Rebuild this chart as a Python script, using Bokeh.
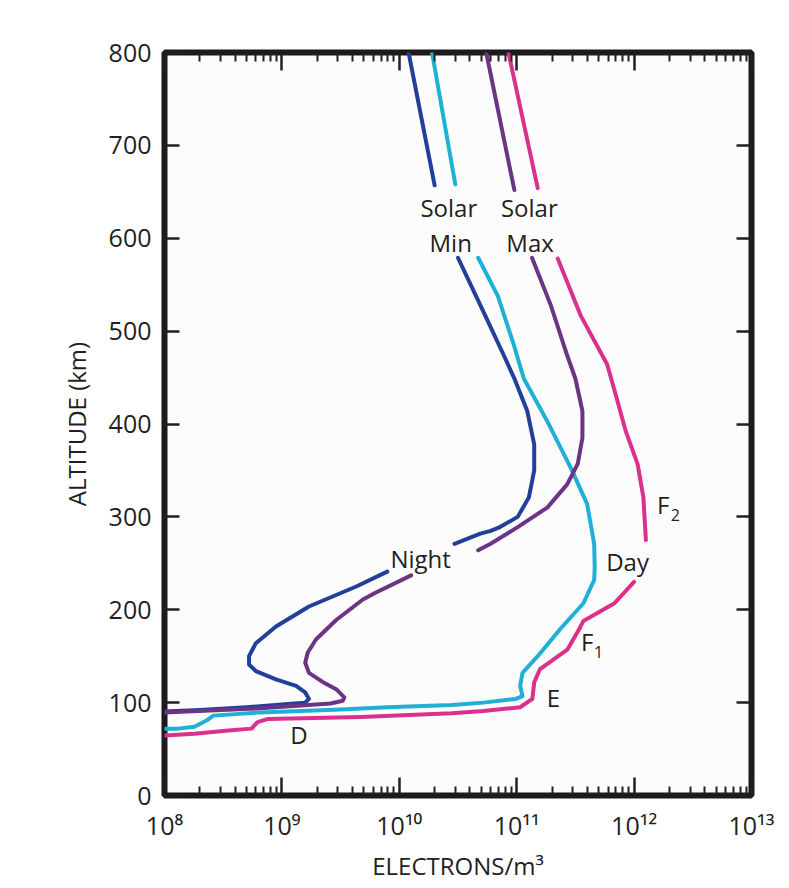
from bokeh.plotting import figure
from bokeh.models import FixedTicker, LinearAxis, LogAxis, ColumnDataSource
from bokeh.core.properties import value
from bokeh.embed import file_html
from bokeh.resources import INLINE

nan = float("nan")

# ---- data (electron density per m^3 vs altitude km); nan = gap in the curve for a label
night_min_ne = [1.20e10, 2.00e10, nan,
                3.16e10, 4.9e10, 7.76e10, 9.55e10, 1.23e11, 1.41e11, 1.41e11, 1.27e11, 1.02e11, 7.2e10, 6.0e10, 4.9e10, 2.95e10, nan,
                7.9e9, 4.3e9, 1.7e9, 8.9e8, 6.0e8, 5.25e8, 5.25e8, 6.0e8, 8.9e8, 1.32e9, 1.58e9, 1.7e9, 1.58e9, 1.12e9, 5.0e8, 2.0e8, 1.0e8]
night_min_alt = [800, 657, nan,
                 579, 528, 474, 449, 414, 378, 350, 321, 300, 289, 285, 282, 271, nan,
                 241, 225, 203.5, 182, 164, 150, 141, 134, 125, 118, 111, 104, 100, 98.5, 95, 92, 90.5]

night_max_ne = [5.5e10, 9.55e10, nan,
                1.35e11, 1.95e11, 2.69e11, 3.16e11, 3.63e11, 3.63e11, 3.31e11, 2.69e11, 1.82e11, 1.02e11, 6.0e10, 4.7e10, nan,
                1.26e10, 6.2e9, 4.9e9, 2.9e9, 1.95e9, 1.66e9, 1.58e9, 1.7e9, 2.24e9, 2.9e9, 3.4e9, 3.3e9, 2.6e9, 6.6e8, 1.0e8]
night_max_alt = [800, 652, nan,
                 579, 528, 474, 449, 414, 385, 357, 335, 310, 289, 271, 264, nan,
                 237, 218, 211, 189, 168, 154, 143, 132, 122, 114.5, 105.6, 102, 99, 94, 89.5]

day_min_ne = [1.9e10, 3.0e10, nan,
              4.7e10, 6.9e10, 9.3e10, 1.15e11, 1.82e11, 2.88e11, 3.98e11, 4.57e11, 4.62e11, 4.57e11, 3.7e11,
              2.34e11, 1.51e11, 1.12e11, 1.07e11, 1.12e11, 9.8e10, 5.2e10, 2.8e10, 7.9e9, 3.16e9, 6.6e8, 2.6e8,
              2.3e8, 1.8e8, 1.3e8, 1.0e8]
day_min_alt = [800, 658, nan,
               579, 538, 488, 449, 403, 353, 314, 271, 245, 232, 207,
               179, 150, 132, 118, 107, 104, 100, 97.5, 95, 92.5, 89.5, 86,
               81, 74, 72, 72]

day_max_ne = [8.5e10, 1.51e11, nan,
              2.24e11, 3.5e11, 5.9e11, 7.1e11, 8.5e11, 1.07e12, 1.2e12, 1.26e12, nan,
              1.0e12, 6.8e11, 3.7e11, 3.4e11, 2.7e11, 1.58e11, 1.41e11, 1.36e11, 1.07e11, 5.2e10, 2.8e10, 4.7e9,
              7.6e8, 6.2e8, 5.5e8, 3.5e8, 1.8e8, 1.0e8]
day_max_alt = [800, 654, nan,
               578, 517, 464, 428, 392, 357, 321, 275, nan,
               230, 207, 188, 179, 157, 136, 122, 104, 95, 91, 88.5, 84.5,
               82.5, 79, 72, 70, 66.5, 64.5]

y_ticks = [0, 100, 200, 300, 400, 500, 600, 700, 800]
y_tick_labels = ["0", "100", "200", "300", "400", "500", "600", "700", "800"]
x_decades = [1e8, 1e9, 1e10, 1e11, 1e12, 1e13]
x_tick_labels = ["10⁸", "10⁹", "10¹⁰", "10¹¹", "10¹²", "10¹³"]

curve_labels = ["Solar", "Min", "Solar", "Max", "Night", "Day", "F", "F", "E", "D"]
curve_label_x = [2.64e10, 2.74e10, 1.28e11, 1.30e11, 1.52e10, 8.8e11, 1.77e12, 3.98e11, 2.05e11, 1.40e9]
curve_label_y = [633, 595.5, 633, 595.5, 255, 251.6, 313.6, 166, 105.5, 65.7]
sub_labels = ["2", "1"]
sub_label_x = [2.25e12, 4.99e11]
sub_label_y = [302.4, 154.4]

# ---- styling
FONT = "Open Sans"
TXT = "#231f20"
C_NIGHT_MIN = "#22409a"
C_NIGHT_MAX = "#6b3584"
C_DAY_MIN = "#1fb0d6"
C_DAY_MAX = "#d9318c"

p = figure(width=785, height=884, x_axis_type="log", x_range=(1e8, 1e13), y_range=(0, 800),
           output_backend="svg", toolbar_location=None,
           min_border_left=164, min_border_right=34, min_border_top=52, min_border_bottom=83)
p.background_fill_color = "#fdfcfd"
p.border_fill_color = "white"
p.grid.visible = False
p.outline_line_color = "#1c1a1b"
p.outline_line_width = 6

minor = [d * m for d in x_decades[:-1] for m in range(2, 10)]

xax = p.below[0]
yax = p.left[0]
top_ax = LogAxis()
right_ax = LinearAxis()
p.add_layout(top_ax, "above")
p.add_layout(right_ax, "right")

for ax in (xax, top_ax):
    ax.ticker = FixedTicker(ticks=x_decades, minor_ticks=minor)
    ax.major_tick_in = 18
    ax.minor_tick_in = 9
    ax.minor_tick_line_width = 2
    ax.minor_tick_line_color = TXT
for ax in (yax, right_ax):
    ax.ticker = FixedTicker(ticks=y_ticks)
    ax.major_tick_in = 15
    ax.minor_tick_line_color = None
for ax in (xax, yax, top_ax, right_ax):
    ax.axis_line_color = None
    ax.major_tick_out = 0
    ax.minor_tick_out = 0
    ax.major_tick_line_width = 2.5
    ax.major_tick_line_color = TXT
for ax in (top_ax, right_ax):
    ax.major_label_text_font_size = "1px"
    ax.major_label_text_color = None
    ax.major_label_standoff = 0

for ax in (xax, yax):
    ax.major_label_text_font = FONT
    ax.major_label_text_font_size = "25px"
    ax.major_label_text_color = TXT
    ax.axis_label_text_font = FONT
    ax.axis_label_text_font_size = "24px"
    ax.axis_label_text_font_style = "normal"
    ax.axis_label_text_color = TXT

yax.major_label_overrides = {t: s for t, s in zip(y_ticks, y_tick_labels)}
yax.major_label_standoff = 13
yax.axis_label = "ALTITUDE (km)"
yax.axis_label_standoff = 13

xax.major_label_overrides = {t: s for t, s in zip(x_decades, x_tick_labels)}
xax.major_label_standoff = 12
xax.axis_label = "ELECTRONS/m³"
xax.axis_label_standoff = 4

# curves
for ne, alt, col in [(day_max_ne, day_max_alt, C_DAY_MAX),
                     (day_min_ne, day_min_alt, C_DAY_MIN),
                     (night_min_ne, night_min_alt, C_NIGHT_MIN),
                     (night_max_ne, night_max_alt, C_NIGHT_MAX)]:
    p.line(ne, alt, line_color=col, line_width=4, line_join="round", line_cap="round")

# curve labels
src = ColumnDataSource(dict(x=curve_label_x, y=curve_label_y, t=curve_labels))
p.text("x", "y", text="t", source=src, text_font=value(FONT), text_font_size="24px",
       text_color=TXT, text_align="center", text_baseline="middle")
src2 = ColumnDataSource(dict(x=sub_label_x, y=sub_label_y, t=sub_labels))
p.text("x", "y", text="t", source=src2, text_font=value(FONT), text_font_size="16px",
       text_color=TXT, text_align="center", text_baseline="middle")

open("out.html", "w").write(file_html(p, INLINE))
